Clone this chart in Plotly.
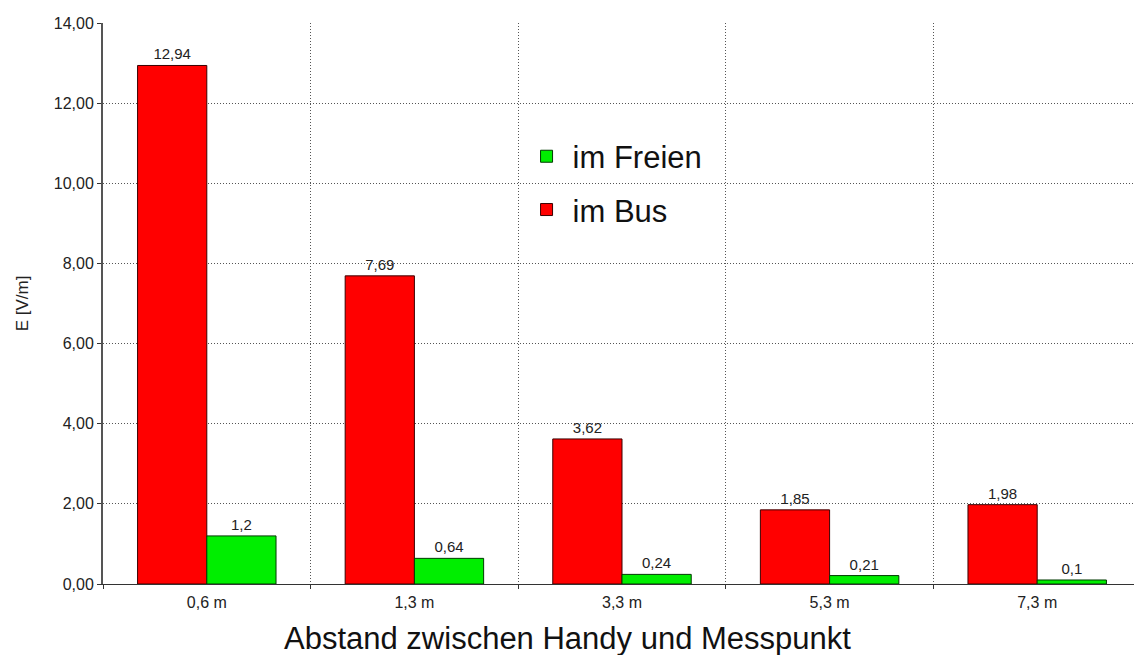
import plotly.graph_objects as go

categories = ["0,6 m", "1,3 m", "3,3 m", "5,3 m", "7,3 m"]
im_bus = [12.94, 7.69, 3.62, 1.85, 1.98]
im_freien = [1.2, 0.64, 0.24, 0.21, 0.1]
y_ticks = [0, 2, 4, 6, 8, 10, 12, 14]
x_title = "Abstand zwischen Handy und Messpunkt"

x = list(range(len(categories)))

def de(v):
    return str(v).replace(".", ",")

font = "Liberation Sans, Arial, sans-serif"

fig = go.Figure()
fig.add_trace(go.Bar(
    x=x, y=im_bus, name="im Bus", legendgroup="bus", legendrank=2,
    marker=dict(color="#ff0000", line=dict(color="#3a0000", width=1)),
    text=[de(v) for v in im_bus], textposition="outside",
    textfont=dict(size=15, color="#222", family=font), cliponaxis=False,
))
fig.add_trace(go.Bar(
    x=x, y=im_freien, name="im Freien", legendgroup="freien", legendrank=1,
    marker=dict(color="#00ee00", line=dict(color="#003a00", width=1)),
    text=[de(v) for v in im_freien], textposition="outside",
    textfont=dict(size=15, color="#222", family=font), cliponaxis=False,
))

grid_dash = "1px,2px"

fig.update_layout(
    width=1134, height=655,
    margin=dict(l=103, r=0, t=23, b=71),
    paper_bgcolor="white", plot_bgcolor="white",
    barmode="group", bargap=0.333, bargroupgap=0,
    font=dict(family=font, color="#222", size=15),
    showlegend=True,
    legend=dict(
        x=0.405, y=0.81, xanchor="left", yanchor="top",
        traceorder="grouped", bgcolor="rgba(0,0,0,0)",
        font=dict(size=31, color="#111", family=font),
        itemwidth=42, tracegroupgap=10,
    ),
    xaxis=dict(
        range=[-0.5, -0.5 + 1031 / 207.6],
        tickmode="array", tickvals=x, ticktext=categories,
        showgrid=False, zeroline=False,
        showline=True, linecolor="#333", linewidth=1,
        ticks="", tickfont=dict(size=16, color="#222"),
        ticklabelstandoff=4,
        minor=dict(tickmode="linear", tick0=0.5, dtick=1, showgrid=True,
                   gridcolor="#555", griddash=grid_dash, gridwidth=1,
                   ticks="outside", ticklen=4, tickcolor="#333"),
    ),
    yaxis=dict(
        range=[0, 14],
        tickmode="array", tickvals=y_ticks,
        ticktext=[f"{v:.2f}".replace(".", ",") for v in y_ticks],
        showgrid=True, gridcolor="#555", griddash=grid_dash, gridwidth=1,
        zeroline=False, showline=True, linecolor="#555", linewidth=2,
        ticks="outside", ticklen=4, tickcolor="#333",
        tickfont=dict(size=16, color="#222"),
        title=dict(text="E [V/m]", font=dict(size=17, color="#222", family=font), standoff=21),
    ),
    annotations=[dict(
        text=x_title, xref="paper", yref="paper",
        x=(567 - 103) / 1031, y=-(638 - 584) / 561,
        xanchor="center", yanchor="middle", showarrow=False,
        font=dict(size=31, color="#111", family=font),
    )],
)

fig.write_html("out.html")
